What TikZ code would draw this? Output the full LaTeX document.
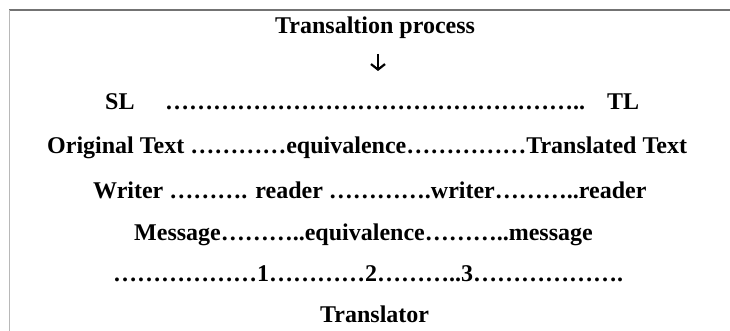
\documentclass[tikz,border=0pt]{standalone}
\usepackage{fontspec}
\setmainfont{Liberation Serif}
\usetikzlibrary{arrows.meta}
\begin{document}
\begin{tikzpicture}[x=1pt, y=-1pt, font=\fontsize{24}{28}\selectfont\bfseries]
        \tikzset{row/.style={anchor=base west, inner sep=0pt}}
        \useasboundingbox (0,0) rectangle (730,331);
        % frame: top rule and left rule
        \draw[black!55, line width=2pt] (9,10) -- (730,10);
        \draw[black!28, line width=1.5pt] (9.5,10) -- (9.5,331);
        \node[row] (title) at (275,34) {Transaltion process};
        \coordinate (arrtop) at (378,54);
        \coordinate (arrbot) at (378,71);
        \draw[line width=2.2pt, -{Straight Barb[length=5.5pt, width=14pt]}] (arrtop) -- (arrbot);
        \node[row] (sl) at (105,110) {SL};
        \node[row] (sldots) at (165,110) {……………………………………………..};
        \node[row] (tl) at (607,110) {TL};
        \node[row] (orig) at (47,154) {Original Text …………equivalence……………Translated Text};
        \node[row] (writer) at (93,198) {Writer ………. reader ………….writer………..reader};
        \node[row] (message) at (134,240) {Message………..equivalence………..message};
        \node[row] (steps) at (113,281) {………………1…………2………..3……………….};
        \node[row] (translator) at (320,322) {Translator};
\end{tikzpicture}
\end{document}
